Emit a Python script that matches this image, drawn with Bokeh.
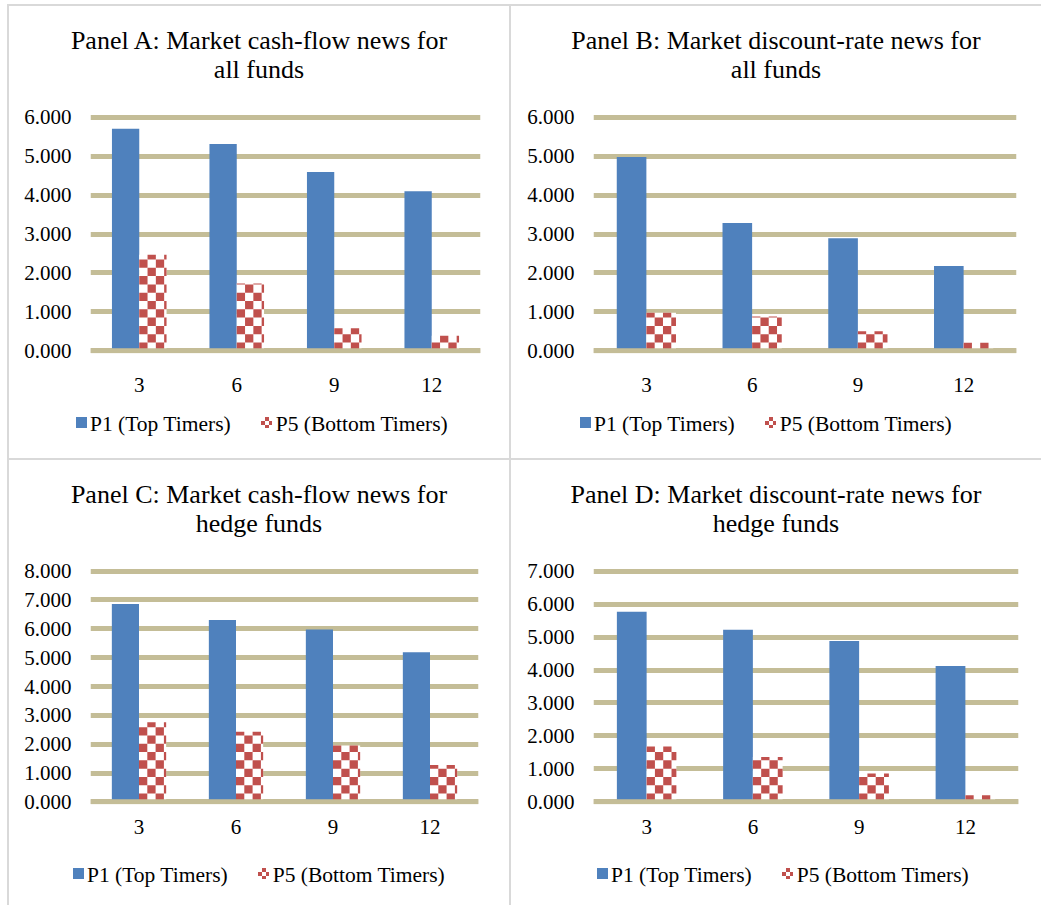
import numpy as np
from bokeh.plotting import figure
from bokeh.models import (Range1d, FixedTicker, NumeralTickFormatter, Span, Div, Spacer,
                          ColumnDataSource)
from bokeh.layouts import row, column
from bokeh.embed import file_html
from bokeh.resources import INLINE

# ---------------- data ----------------
horizons = ["3", "6", "9", "12"]
series_names = ["P1 (Top Timers)", "P5 (Bottom Timers)"]

a_top = [5.70, 5.31, 4.59, 4.10]
a_bottom = [2.47, 1.73, 0.58, 0.39]
b_top = [4.98, 3.28, 2.89, 2.18]
b_bottom = [0.98, 0.88, 0.50, 0.21]
c_top = [6.86, 6.31, 5.98, 5.19]
c_bottom = [2.76, 2.43, 1.95, 1.28]
d_top = [5.77, 5.22, 4.88, 4.12]
d_bottom = [1.68, 1.36, 0.86, 0.20]

title_a = ["Panel A: Market cash-flow news for", "all funds"]
title_b = ["Panel B: Market discount-rate news for", "all funds"]
title_c = ["Panel C: Market cash-flow news for", "hedge funds"]
title_d = ["Panel D: Market discount-rate news for", "hedge funds"]

ymax_a, ymax_b, ymax_c, ymax_d = 6, 6, 8, 7

# ---------------- style ----------------
BLUE = "#4F81BD"
RED = "#C0504D"
GRID = "#C4BD97"
BORDER = "#D9D9D9"
FONT = "Liberation Serif"
BAR_W = 0.28
CELL_PX = 8.3


def checker_quads(xs, values, frame_w, frame_h, yspan, xspan):
    """Checkerboard texture cells inside each P5 bar (derived from the bar values)."""
    cw = CELL_PX * xspan / frame_w
    ch = CELL_PX * yspan / frame_h
    L, R, T, B = [], [], [], []
    for x0, v in zip(xs, values):
        left = x0
        right = x0 + BAR_W
        j = 0
        cx = left
        while cx < right - 1e-9:
            k = 0
            cy = 0.0
            while cy < v - 1e-9:
                if (j + k) % 2 == 0:
                    L.append(cx)
                    R.append(min(cx + cw, right))
                    B.append(cy)
                    T.append(min(cy + ch, v))
                cy += ch
                k += 1
            cx += cw
            j += 1
    return dict(left=L, right=R, top=T, bottom=B)


def make_panel(top, bottom, ymax, w, h, bl, br, bt, bb, xstand):
    pad = ymax * 0.0115
    n = len(horizons)
    xs = list(np.arange(n) + 0.5)
    p = figure(width=w, height=h, output_backend="svg", toolbar_location=None,
               x_range=Range1d(0, n), y_range=Range1d(-pad, ymax + pad),
               min_border_left=bl, min_border_right=br, min_border_top=bt, min_border_bottom=bb,
               margin=0)
    p.outline_line_color = None
    p.background_fill_color = "white"
    p.border_fill_color = "white"

    frame_w = w - bl - br
    frame_h = h - bt - bb

    src = ColumnDataSource(dict(x1=[x - BAR_W / 2 for x in xs], x2=[x + BAR_W / 2 for x in xs],
                                top=top, bottom=bottom))
    p.vbar(x="x1", top="top", width=BAR_W, source=src, fill_color=BLUE, line_color=None)
    p.vbar(x="x2", top="bottom", width=BAR_W, source=src, fill_color="white", line_color=None)
    cells = checker_quads(xs, bottom, frame_w, frame_h, ymax + 2 * pad, n)
    p.quad(source=ColumnDataSource(cells), left="left", right="right", top="top",
           bottom="bottom", fill_color=RED, line_color=None)

    ticks = list(range(0, ymax + 1))
    p.yaxis.ticker = FixedTicker(ticks=ticks)
    p.ygrid.ticker = FixedTicker(ticks=ticks)
    p.yaxis.formatter = NumeralTickFormatter(format="0.000")
    p.ygrid.grid_line_color = GRID
    p.ygrid.grid_line_width = 5
    p.xgrid.grid_line_color = None
    p.xaxis.ticker = FixedTicker(ticks=xs)
    p.xaxis.major_label_overrides = {float(x): lab for x, lab in zip(xs, horizons)}

    for ax in (p.xaxis, p.yaxis):
        ax.axis_line_color = None
        ax.major_tick_line_color = None
        ax.minor_tick_line_color = None
        ax.major_tick_out = 0
        ax.major_tick_in = 0
        ax.major_label_text_font = FONT
        ax.major_label_text_font_size = "21px"
        ax.major_label_text_color = "#000000"
    p.yaxis.major_label_standoff = 19
    p.xaxis.major_label_standoff = xstand

    p.add_layout(Span(location=0, dimension="width", line_color=GRID, line_width=5,
                      level="overlay"))
    return p


def title_div(lines, w, h):
    html = ('<div style="font-family:\'Liberation Serif\';font-size:26px;line-height:29px;'
            'text-align:center;color:#000;padding-top:20px;width:%dpx;">%s</div>'
            % (w, "<br>".join(lines)))
    return Div(text=html, width=w, height=h, margin=0)


def legend_div(w, h, pad_left):
    sq = ('display:inline-block;width:11px;height:11px;vertical-align:middle;'
          'position:relative;top:-2px;')
    html = ('<div style="font-family:\'Liberation Serif\';font-size:21.5px;line-height:24px;'
            'white-space:nowrap;color:#000;margin-top:-2px;padding-left:%dpx;">'
            '<span style="%sbackground:%s;margin-right:3px;"></span>'
            '<span style="vertical-align:middle;">%s</span>'
            '<span style="%smargin-left:30px;margin-right:4px;'
            'background:repeating-conic-gradient(%s 0 25%%, #ffffff 0 50%%) 0 0/8px 8px;"></span>'
            '<span style="vertical-align:middle;">%s</span></div>'
            % (pad_left, sq, BLUE, series_names[0], sq, RED, series_names[1]))
    return Div(text=html, width=w, height=h, margin=0)


pA = make_panel(a_top, a_bottom, ymax_a, 500, 316, 81, 29, 18, 59, 24)
pB = make_panel(b_top, b_bottom, ymax_b, 530, 316, 82, 25, 18, 59, 24)
pC = make_panel(c_top, c_bottom, ymax_c, 500, 313, 81, 31, 18, 59, 15)
pD = make_panel(d_top, d_bottom, ymax_d, 530, 313, 82, 23, 18, 59, 15)

cellA = column(title_div(title_a, 500, 90), pA, legend_div(500, 46, 67), spacing=0)
cellB = column(title_div(title_b, 530, 90), pB, legend_div(530, 46, 69), spacing=0)
cellC = column(title_div(title_c, 500, 90), pC, legend_div(500, 42, 64), spacing=0)
cellD = column(title_div(title_d, 530, 90), pD, legend_div(530, 42, 86), spacing=0)


def hline(w):
    return Div(text="", width=w, height=2, margin=0, styles={"background-color": BORDER})


def vline(h):
    return Div(text="", width=2, height=h, margin=0, styles={"background-color": BORDER})


layout = column(
    Spacer(width=1041, height=4, margin=0),
    row(Spacer(width=7, height=2, margin=0), hline(1034), spacing=0),
    row(Spacer(width=7, height=452, margin=0), vline(452), cellA, vline(452), cellB, spacing=0),
    row(Spacer(width=7, height=2, margin=0), hline(1034), spacing=0),
    row(Spacer(width=7, height=445, margin=0), vline(445), cellC, vline(445), cellD, spacing=0),
    spacing=0,
)

open("out.html", "w").write(file_html(layout, INLINE))
